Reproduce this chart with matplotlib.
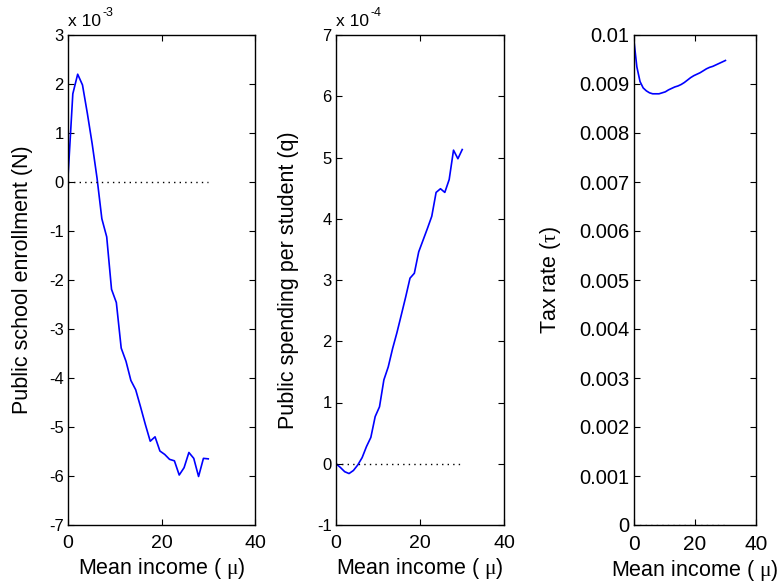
import numpy as np
import matplotlib
matplotlib.use("Agg")
import matplotlib.pyplot as plt
from matplotlib.ticker import MultipleLocator, FuncFormatter

plt.rcParams['font.family'] = ['Liberation Sans', 'DejaVu Sans']
plt.rcParams['mathtext.fontset'] = 'custom'
plt.rcParams['mathtext.rm'] = 'Liberation Serif'
plt.rcParams['mathtext.it'] = 'Liberation Serif'

# Mean income grid (30 points from 0 to 30)
income = [0.0, 1.03, 2.07, 3.10, 4.14, 5.17, 6.21, 7.24, 8.28, 9.31,
          10.34, 11.38, 12.41, 13.45, 14.48, 15.52, 16.55, 17.59, 18.62, 19.66,
          20.69, 21.72, 22.76, 23.79, 24.83, 25.86, 26.90, 27.93, 28.97, 30.0]

# Public school enrollment (units of 1e-3)
enrollment = [0.1, 1.8, 2.2, 1.98, 1.4, 0.78, 0.08, -0.75, -1.12, -2.19,
              -2.46, -3.39, -3.66, -4.05, -4.24, -4.59, -4.95, -5.29, -5.2, -5.49,
              -5.56, -5.66, -5.69, -5.98, -5.83, -5.52, -5.64, -6.01, -5.64, -5.65]

# Public spending per student (units of 1e-4)
spending = [0.0, -0.06, -0.13, -0.16, -0.11, -0.02, 0.10, 0.28, 0.43, 0.77,
            0.93, 1.37, 1.58, 1.88, 2.14, 2.43, 2.72, 3.03, 3.11, 3.46,
            3.65, 3.84, 4.04, 4.43, 4.49, 4.43, 4.64, 5.12, 4.98, 5.13]

# Tax rate
tax = [0.00993, 0.00935, 0.00905, 0.00892, 0.00886, 0.00882, 0.00880, 0.00880, 0.00880, 0.00882,
       0.00884, 0.00888, 0.00891, 0.00894, 0.00896, 0.00899, 0.00903, 0.00908, 0.00913, 0.00917,
       0.00920, 0.00923, 0.00927, 0.00931, 0.00934, 0.00936, 0.00939, 0.00942, 0.00945, 0.00948]

xlabel = 'Mean income ( $\\mu$)'
ylabels = ['Public school enrollment (N)', 'Public spending per student (q)', 'Tax rate ($\\tau$)']
ylims = [(-7, 3), (-1, 7), (0, 0.01)]
exponents = ['-3', '-4', None]

fig = plt.figure(figsize=(7.82, 5.85), dpi=100)
W, H = 782, 585
boxes = [(68, 187), (336, 168.3), (633.7, 122.3)]
top_px, bot_px = 35, 525
series = [enrollment, spending, tax]
label_x = [-0.185, -0.22, -0.58]
ytick_sizes = [12, 12, 14.5]
xtick_sizes = [14, 14, 15]

for i, ((lp, wp), ys) in enumerate(zip(boxes, series)):
    ax = fig.add_axes([lp / W, (H - bot_px) / H, wp / W, (bot_px - top_px) / H])
    ax.plot(income, ys, color='#0000ff', lw=1.2)
    ax.plot([income[0], income[-1]], [0, 0], color='black' if i < 2 else '#555555',
            lw=1.0, linestyle=(0, (1, 3)))
    ax.set_xlim(0, 40)
    ax.set_ylim(*ylims[i])
    ax.xaxis.set_major_locator(MultipleLocator(20))
    if i < 2:
        ax.yaxis.set_major_locator(MultipleLocator(1))
        ax.yaxis.set_major_formatter(FuncFormatter(lambda v, p: '%d' % round(v)))
    else:
        ax.yaxis.set_major_locator(MultipleLocator(0.001))
        ax.yaxis.set_major_formatter(FuncFormatter(lambda v, p: '%g' % round(v, 4)))
    ax.tick_params(direction='in', length=4, width=0.8, top=True, right=True, colors='black')
    ax.tick_params(axis='y', labelsize=ytick_sizes[i], pad=3)
    ax.tick_params(axis='x', labelsize=xtick_sizes[i], pad=7)
    for s in ax.spines.values():
        s.set_linewidth(1.0)
    ax.set_xlabel(xlabel, fontsize=15.5, labelpad=3)
    ax.set_ylabel(ylabels[i], fontsize=15.5)
    ax.yaxis.set_label_coords(label_x[i], 0.5)
    if exponents[i] is not None:
        ax.annotate('x 10', xy=(0, 1), xycoords='axes fraction', xytext=(0, 4),
                    textcoords='offset points', fontsize=12.5, ha='left', va='bottom')
        ax.annotate(exponents[i], xy=(0, 1), xycoords='axes fraction', xytext=(24.5, 11.5),
                    textcoords='offset points', fontsize=9, ha='left', va='bottom')

fig.savefig('out.png', dpi=100)
